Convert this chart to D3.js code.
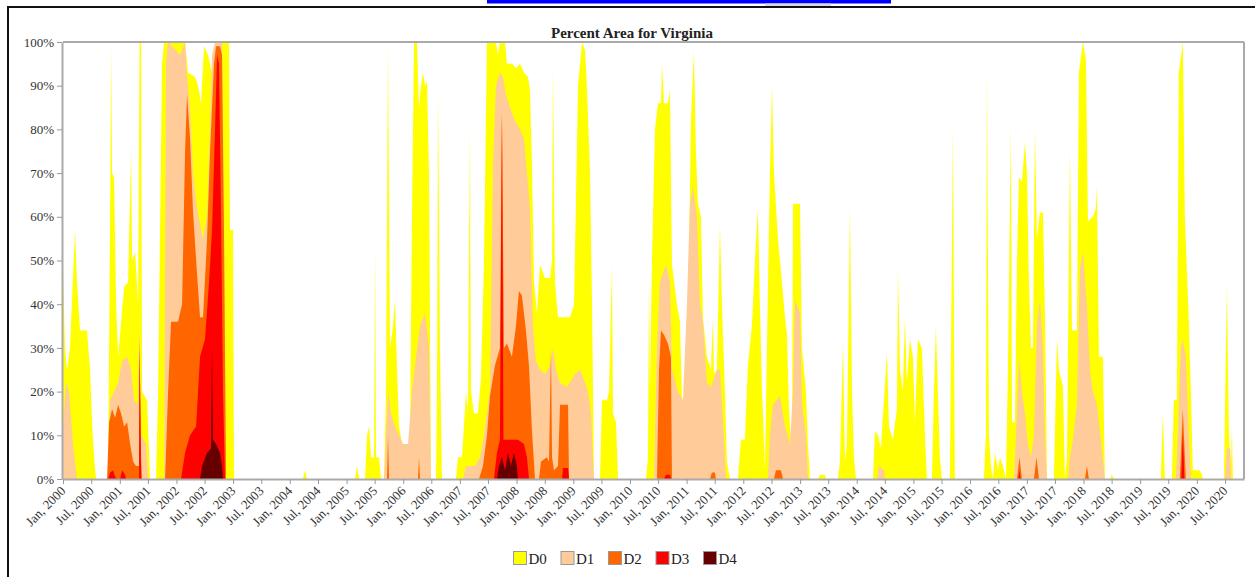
<!DOCTYPE html>
<html>
<head>
<meta charset="utf-8">
<script src="https://cdn.jsdelivr.net/npm/d3@7"></script>
<style>
  body { margin: 0; background: #fff; }
  svg { display: block; font-family: "Liberation Serif", "Times New Roman", serif; }
</style>
</head>
<body>
<svg id="chart" width="1255" height="577"></svg>
<script>
// ---------------- DATA (time as decimal year, value = percent area) ----------------
const categories = ["D0", "D1", "D2", "D3", "D4"];
const colors = ["#ffff00", "#ffcc99", "#ff6600", "#ff0000", "#660000"];
const title = "Percent Area for Virginia";
const yTicks = [0, 10, 20, 30, 40, 50, 60, 70, 80, 90, 100];
const xTickLabels = [
  "Jan, 2000","Jul, 2000","Jan, 2001","Jul, 2001","Jan, 2002","Jul, 2002","Jan, 2003","Jul, 2003",
  "Jan, 2004","Jul, 2004","Jan, 2005","Jul, 2005","Jan, 2006","Jul, 2006","Jan, 2007","Jul, 2007",
  "Jan, 2008","Jul, 2008","Jan, 2009","Jul, 2009","Jan, 2010","Jul, 2010","Jan, 2011","Jul, 2011",
  "Jan, 2012","Jul, 2012","Jan, 2013","Jul, 2013","Jan, 2014","Jul, 2014","Jan, 2015","Jul, 2015",
  "Jan, 2016","Jul, 2016","Jan, 2017","Jul, 2017","Jan, 2018","Jul, 2018","Jan, 2019","Jul, 2019",
  "Jan, 2020","Jul, 2020"
];
const timeExtent = ["2000-01-01", "2020-10-31"];

const d0Series = [
  [2000.000,48],[2000.035,30],[2000.071,25],[2000.123,30],[2000.212,57],[2000.247,45],[2000.300,34],[2000.423,34],
  [2000.476,25],[2000.511,13],[2000.547,5],[2000.582,0],[2000.794,0],[2000.829,60],[2000.847,99],[2000.864,70],
  [2000.899,69],[2000.935,40],[2000.970,28],[2001.023,36],[2001.076,44],[2001.146,45],[2001.199,75],[2001.217,50],
  [2001.270,52],[2001.323,40],[2001.349,100],[2001.376,100],[2001.393,20],[2001.481,18],[2001.534,0],[2001.640,0],
  [2001.676,20],[2001.746,95],[2001.781,100],[2002.152,100],[2002.205,93],[2002.328,92],[2002.381,90],[2002.434,86],
  [2002.487,99],[2002.557,97],[2002.628,93],[2002.681,100],[2002.928,100],[2002.945,57],[2002.998,57],[2003.016,0],
  [2004.233,0],[2004.268,2],[2004.303,0],[2005.150,0],[2005.185,3],[2005.221,0],[2005.326,0],[2005.362,10],
  [2005.397,12],[2005.432,5],[2005.485,5],[2005.503,53],[2005.520,5],[2005.573,5],[2005.609,0],[2005.661,0],
  [2005.697,20],[2005.732,99],[2005.767,30],[2005.820,35],[2005.855,41],[2005.891,25],[2005.926,12],[2005.979,8],
  [2006.032,5],[2006.085,3],[2006.120,10],[2006.155,60],[2006.191,100],[2006.243,100],[2006.279,85],[2006.314,90],
  [2006.349,93],[2006.385,90],[2006.420,91],[2006.455,70],[2006.490,0],[2006.579,0],[2006.596,20],[2006.614,88],
  [2006.649,30],[2006.684,0],[2006.931,0],[2006.967,5],[2007.037,5],[2007.072,12],[2007.108,20],[2007.143,15],
  [2007.178,80],[2007.196,20],[2007.249,15],[2007.319,15],[2007.372,23],[2007.425,49],[2007.478,100],[2007.637,100],
  [2007.672,97],[2007.707,100],[2007.796,100],[2007.831,95],[2007.919,95],[2007.990,94],[2008.060,95],[2008.131,93],
  [2008.201,92],[2008.236,89],[2008.272,72],[2008.307,45],[2008.360,38],[2008.413,49],[2008.501,46],[2008.589,46],
  [2008.625,50],[2008.642,94],[2008.677,45],[2008.730,37],[2008.854,37],[2008.942,37],[2009.013,40],[2009.083,90],
  [2009.154,100],[2009.207,98],[2009.242,89],[2009.295,70],[2009.330,40],[2009.365,0],[2009.471,0],[2009.506,18],
  [2009.594,18],[2009.630,20],[2009.683,49],[2009.700,15],[2009.753,13],[2009.789,0],[2010.282,0],[2010.318,5],
  [2010.335,45],[2010.353,20],[2010.388,50],[2010.441,80],[2010.494,86],[2010.547,86],[2010.565,95],[2010.600,86],
  [2010.670,86],[2010.706,89],[2010.741,49],[2010.829,40],[2010.882,36],[2010.917,19],[2010.988,10],[2011.041,50],
  [2011.076,82],[2011.129,98],[2011.164,75],[2011.199,63],[2011.252,60],[2011.288,37],[2011.358,28],[2011.429,25],
  [2011.464,37],[2011.482,24],[2011.535,25],[2011.588,58],[2011.623,40],[2011.676,20],[2011.711,4],[2011.764,0],
  [2011.905,0],[2011.958,9],[2012.028,9],[2012.081,26],[2012.152,35],[2012.205,50],[2012.258,62],[2012.293,40],
  [2012.328,21],[2012.381,2],[2012.416,30],[2012.469,70],[2012.505,90],[2012.540,70],[2012.610,55],[2012.681,45],
  [2012.734,37],[2012.769,33],[2012.804,16],[2012.857,5],[2012.875,63],[2012.998,63],[2013.034,30],[2013.104,20],
  [2013.139,8],[2013.175,0],[2013.316,0],[2013.351,1],[2013.439,1],[2013.457,0],[2013.669,0],[2013.704,4],
  [2013.757,31],[2013.792,4],[2013.827,8],[2013.880,62],[2013.916,20],[2013.951,5],[2013.986,0],[2014.286,0],
  [2014.321,11],[2014.374,10],[2014.427,7],[2014.480,18],[2014.533,29],[2014.568,12],[2014.639,9],[2014.709,16],
  [2014.727,48],[2014.762,25],[2014.815,20],[2014.850,37],[2014.885,22],[2014.939,32],[2014.991,28],[2015.027,13],
  [2015.080,32],[2015.150,30],[2015.203,10],[2015.238,0],[2015.327,0],[2015.362,20],[2015.397,35],[2015.432,20],
  [2015.468,5],[2015.503,0],[2015.644,0],[2015.697,80],[2015.732,0],[2016.244,0],[2016.279,10],[2016.297,94],
  [2016.332,10],[2016.367,3],[2016.402,0],[2016.438,6],[2016.491,2],[2016.526,5],[2016.579,3],[2016.632,0],
  [2016.667,25],[2016.720,81],[2016.738,13],[2016.790,13],[2016.826,50],[2016.861,69],[2016.914,68],[2016.967,77],
  [2017.002,70],[2017.037,45],[2017.073,30],[2017.108,30],[2017.143,80],[2017.178,55],[2017.231,61],[2017.284,61],
  [2017.319,38],[2017.355,0],[2017.478,0],[2017.531,32],[2017.566,25],[2017.637,21],[2017.672,0],[2017.708,5],
  [2017.760,75],[2017.796,34],[2017.884,34],[2017.919,93],[2017.990,100],[2018.043,96],[2018.078,59],[2018.166,60],
  [2018.219,62],[2018.237,67],[2018.272,28],[2018.342,28],[2018.378,0],[2018.466,0],[2018.501,1],[2018.536,0],
  [2019.365,0],[2019.401,15],[2019.436,0],[2019.560,0],[2019.595,18],[2019.648,18],[2019.683,93],[2019.753,100],
  [2019.789,60],[2019.824,48],[2019.859,36],[2019.895,20],[2019.930,2],[2020.053,2],[2020.089,1],[2020.106,0],
  [2020.477,0],[2020.512,30],[2020.530,44],[2020.565,10],[2020.600,3],[2020.618,12],[2020.635,0],[2020.829,0]
];

const d1Series = [
  [2000.000,12],[2000.053,22],[2000.106,20],[2000.176,8],[2000.247,0],[2000.794,0],[2000.829,18],[2000.899,20],
  [2000.970,22],[2001.041,27],[2001.129,28],[2001.199,25],[2001.252,18],[2001.323,17],[2001.349,35],[2001.376,10],
  [2001.464,8],[2001.499,0],[2001.781,0],[2001.817,95],[2001.852,100],[2002.064,97],[2002.152,100],[2002.187,92],
  [2002.240,85],[2002.293,70],[2002.363,62],[2002.469,55],[2002.540,60],[2002.593,80],[2002.628,97],[2002.681,100],
  [2002.804,100],[2002.840,60],[2002.875,0],[2005.661,0],[2005.697,10],[2005.732,20],[2005.785,15],[2005.855,12],
  [2005.926,10],[2005.997,8],[2006.085,8],[2006.155,20],[2006.226,28],[2006.296,35],[2006.385,38],[2006.455,30],
  [2006.490,0],[2007.055,0],[2007.108,3],[2007.266,3],[2007.355,5],[2007.425,10],[2007.478,15],[2007.531,20],
  [2007.584,72],[2007.637,90],[2007.707,93],[2007.760,92],[2007.813,88],[2007.884,85],[2007.972,82],[2008.060,80],
  [2008.131,78],[2008.184,70],[2008.236,62],[2008.289,35],[2008.342,27],[2008.413,25],[2008.501,24],[2008.589,26],
  [2008.642,30],[2008.695,25],[2008.766,22],[2008.889,21],[2009.030,24],[2009.118,25],[2009.207,22],[2009.259,20],
  [2009.312,15],[2009.365,0],[2010.423,0],[2010.476,30],[2010.529,45],[2010.635,49],[2010.706,45],[2010.741,25],
  [2010.847,20],[2010.935,18],[2011.005,40],[2011.058,63],[2011.111,67],[2011.182,60],[2011.235,40],[2011.288,36],
  [2011.358,22],[2011.429,21],[2011.535,25],[2011.588,25],[2011.658,10],[2011.693,0],[2012.434,0],[2012.469,10],
  [2012.522,17],[2012.646,19],[2012.734,12],[2012.822,8],[2012.875,20],[2012.910,41],[2012.998,38],[2013.034,17],
  [2013.104,10],[2013.139,0],[2014.357,0],[2014.392,3],[2014.480,2],[2014.498,0],[2016.773,0],[2016.808,10],
  [2016.861,28],[2016.914,20],[2016.967,15],[2017.020,8],[2017.073,5],[2017.125,10],[2017.178,35],[2017.231,41],
  [2017.284,30],[2017.319,10],[2017.355,0],[2017.725,0],[2017.760,5],[2017.813,9],[2017.884,17],[2017.937,48],
  [2017.990,52],[2018.060,40],[2018.113,25],[2018.166,20],[2018.237,17],[2018.307,9],[2018.378,0],[2019.630,0],
  [2019.665,10],[2019.718,30],[2019.753,32],[2019.806,28],[2019.859,10],[2019.895,0],[2020.494,0],[2020.530,7],
  [2020.590,7],[2020.600,0]
];

const d2Series = [
  [2000.776,0],[2000.811,13],[2000.864,16],[2000.917,14],[2000.970,17],[2001.023,15],[2001.076,12],[2001.129,13],
  [2001.182,8],[2001.235,4],[2001.287,3],[2001.340,3],[2001.349,30],[2001.376,5],[2001.393,0],[2001.799,0],
  [2001.852,20],[2001.905,36],[2002.028,36],[2002.099,40],[2002.152,75],[2002.187,88],[2002.240,78],[2002.293,61],
  [2002.363,47],[2002.416,37],[2002.469,37],[2002.540,55],[2002.593,75],[2002.663,95],[2002.698,99],[2002.769,99],
  [2002.804,97],[2002.840,55],[2002.875,0],[2005.714,0],[2005.732,10],[2005.750,0],[2006.261,0],[2006.279,5],
  [2006.296,0],[2007.337,0],[2007.408,3],[2007.478,10],[2007.531,19],[2007.619,26],[2007.707,30],[2007.743,84],
  [2007.778,30],[2007.831,31],[2007.919,28],[2007.990,35],[2008.042,43],[2008.095,42],[2008.166,34],[2008.219,26],
  [2008.272,11],[2008.325,0],[2008.395,0],[2008.431,4],[2008.536,5],[2008.571,4],[2008.607,30],[2008.625,5],
  [2008.660,2],[2008.730,3],[2008.766,17],[2008.907,17],[2008.924,0],[2010.476,0],[2010.512,25],[2010.547,34],
  [2010.600,33],[2010.670,31],[2010.723,28],[2010.741,0],[2011.411,0],[2011.446,1.5],[2011.499,1.5],[2011.517,0],
  [2012.540,0],[2012.575,2],[2012.663,2],[2012.699,0],[2016.826,0],[2016.870,5],[2016.914,0],[2017.125,0],
  [2017.170,5],[2017.214,0],[2018.025,0],[2018.060,3],[2018.096,0],[2019.700,0],[2019.753,16],[2019.806,0]
];

const d3Series = [
  [2000.794,0],[2000.829,1.5],[2000.882,2],[2000.917,0.5],[2000.952,0],[2001.005,0],[2001.041,2],[2001.093,1],
  [2001.111,0],[2001.340,0],[2001.349,32],[2001.376,0],[2002.081,0],[2002.152,6],[2002.240,10],[2002.346,12],
  [2002.416,28],[2002.504,32],[2002.575,45],[2002.628,57],[2002.681,80],[2002.716,97],[2002.751,95],[2002.787,60],
  [2002.822,20],[2002.857,0],[2007.601,0],[2007.655,6],[2007.707,9],[2007.743,84],[2007.769,9],[2007.884,9],
  [2008.025,9],[2008.131,8],[2008.184,5],[2008.219,0],[2008.801,0],[2008.819,2.5],[2008.907,2.5],[2008.924,0],
  [2010.600,0],[2010.635,1],[2010.706,1],[2010.723,0],[2016.852,0],[2016.870,2],[2016.887,0],[2019.727,0],
  [2019.753,11],[2019.780,0]
];

const d4Series = [
  [2002.416,0],[2002.452,3],[2002.540,6],[2002.610,7],[2002.628,30],[2002.646,9],[2002.698,8],[2002.769,6],
  [2002.804,3],[2002.822,0],[2007.655,0],[2007.690,3],[2007.743,5],[2007.796,2],[2007.848,6],[2007.901,3],
  [2007.954,6],[2008.007,3],[2008.025,0]
];

const seriesList = [d0Series, d1Series, d2Series, d3Series, d4Series];

// ---------------- CHART ----------------
const svg = d3.select("#chart");
const W = 1255, H = 577;
const m = { left: 63, right: 1244, top: 42, bottom: 479 };

// page decoration (frame + top bar)
svg.append("rect").attr("x", 487).attr("y", 0).attr("width", 404).attr("height", 3.5).attr("fill", "#0000ff");
svg.append("rect").attr("x", 765).attr("y", 3.5).attr("width", 66).attr("height", 2.5).attr("fill", "#d8d8e0");
svg.append("path").attr("d", `M8,${H + 5} L8,7 L${W + 5},7`).attr("fill", "none").attr("stroke", "#111").attr("stroke-width", 2);

const toDate = v => {
  const yr = Math.floor(v);
  const a = new Date(yr, 0, 1), b = new Date(yr + 1, 0, 1);
  return new Date(+a + (v - yr) * (b - a));
};
const parseDay = d3.timeParse("%Y-%m-%d");
const parseTick = d3.timeParse("%b, %Y");

const x = d3.scaleTime().domain(timeExtent.map(parseDay)).range([m.left, m.right]);
const y = d3.scaleLinear().domain([0, 100]).range([m.bottom, m.top]);

svg.append("defs").append("clipPath").attr("id", "clip")
  .append("rect").attr("x", m.left).attr("y", m.top).attr("width", m.right - m.left).attr("height", m.bottom - m.top);

const area = d3.area()
  .x(d => x(toDate(d[0])))
  .y0(y(0))
  .y1(d => y(d[1]));

const g = svg.append("g").attr("clip-path", "url(#clip)");
seriesList.forEach((s, i) => {
  g.append("path").datum(s).attr("d", area).attr("fill", colors[i]).attr("stroke", "none");
});

// frame top/right
svg.append("line").attr("x1", m.left).attr("x2", m.right).attr("y1", m.top).attr("y2", m.top)
  .attr("stroke", "#aaa").attr("stroke-width", 2);
svg.append("line").attr("x1", m.right).attr("x2", m.right).attr("y1", m.top).attr("y2", m.bottom)
  .attr("stroke", "#aaa").attr("stroke-width", 2);

// y axis
const yAxis = svg.append("g").attr("transform", `translate(${m.left - 1},0)`)
  .call(d3.axisLeft(y).tickValues(yTicks).tickFormat(d => d + "%").tickSize(5).tickSizeOuter(0).tickPadding(3));
yAxis.select(".domain").attr("stroke", "#aaa").attr("stroke-width", 2);
yAxis.selectAll(".tick line").attr("stroke", "#999");
yAxis.selectAll("text").attr("font-size", 13).attr("fill", "#333").attr("font-family", "Liberation Serif, serif");

// x axis
const xAxis = svg.append("g").attr("transform", `translate(0,${m.bottom})`)
  .call(d3.axisBottom(x).tickValues(xTickLabels.map(parseTick)).tickFormat(d3.timeFormat("%b, %Y"))
    .tickSize(5).tickSizeOuter(0));
xAxis.select(".domain").attr("stroke", "#aaa").attr("stroke-width", 2);
xAxis.selectAll(".tick line").attr("stroke", "#999");
xAxis.selectAll("text")
  .attr("font-size", 13).attr("fill", "#333").attr("font-family", "Liberation Serif, serif")
  .attr("text-anchor", "end").attr("x", -7).attr("y", 11).attr("dy", 0)
  .attr("transform", "rotate(-45)");

// title
svg.append("text").attr("x", 632).attr("y", 38).attr("text-anchor", "middle")
  .attr("font-size", 15).attr("font-weight", "bold").attr("fill", "#222").text(title);

// legend
const leg = svg.append("g").attr("transform", "translate(513,551)");
categories.forEach((c, i) => {
  const it = leg.append("g").attr("transform", `translate(${i * 47.5},0)`);
  it.append("rect").attr("x", 0.5).attr("y", 0.5).attr("width", 13).attr("height", 13)
    .attr("fill", colors[i]).attr("stroke", "#999").attr("stroke-width", 1);
  it.append("text").attr("x", 15.5).attr("y", 12.5).attr("font-size", 15).attr("fill", "#222").text(c);
});
</script>
</body>
</html>
